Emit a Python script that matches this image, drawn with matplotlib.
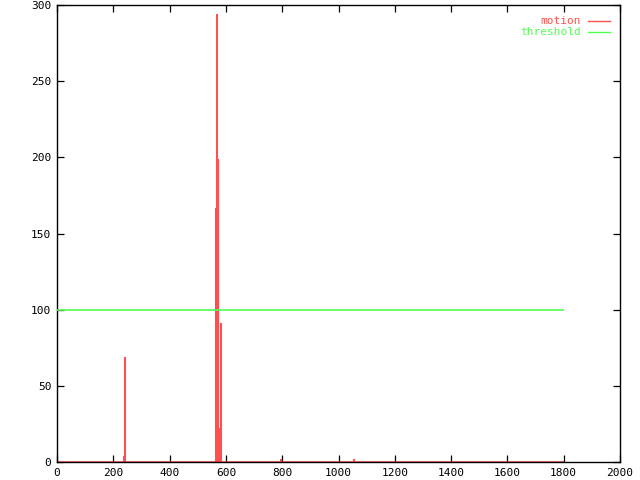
import matplotlib
matplotlib.use("Agg")
import matplotlib.pyplot as plt

# motion impulses (frame, value); all other frames are zero
frames = [0, 239, 243, 565, 567, 569, 572, 576, 584, 794, 1055, 1800]
motion = [0, 4, 69, 167, 167, 294, 199, 22, 91, 2, 2, 0]
threshold_value = 100
threshold_range = [0, 1800]

xticks = list(range(0, 2001, 200))
yticks = list(range(0, 301, 50))

red = "#ff5050"
green = "#50ff50"

plt.rcParams['font.family'] = ['DejaVu Sans Mono']

fig = plt.figure(figsize=(6.4, 4.8), dpi=100)
ax = fig.add_axes([57/640, 18/480, 563/640, 457/480])

ax.hlines(0, frames[0], frames[-1], color=red, lw=1.2, zorder=2)
ax.vlines(frames, 0, motion, color=red, lw=1.5, zorder=2)
ax.hlines(threshold_value, threshold_range[0], threshold_range[1], color=green, lw=1.2, zorder=3)

ax.set_xlim(0, 2000)
ax.set_ylim(0, 300)
ax.set_xticks(xticks)
ax.set_yticks(yticks)
ax.tick_params(direction='in', length=5, width=0.9, top=True, right=True,
               labelsize=8, colors='black', pad=4)
for s in ax.spines.values():
    s.set_linewidth(1)
    s.set_color('black')

# legend (gnuplot style: right aligned text, sample line)
ax.text(0.9307, 0.965, "motion", transform=ax.transAxes, ha='right', va='center',
        color=red, fontsize=8)
ax.plot([0.9432, 0.9822], [0.965, 0.965], transform=ax.transAxes, color=red, lw=1)
ax.text(0.9307, 0.941, "threshold", transform=ax.transAxes, ha='right', va='center',
        color=green, fontsize=8)
ax.plot([0.9432, 0.9822], [0.941, 0.941], transform=ax.transAxes, color=green, lw=1)

fig.savefig("out.png", dpi=100)
